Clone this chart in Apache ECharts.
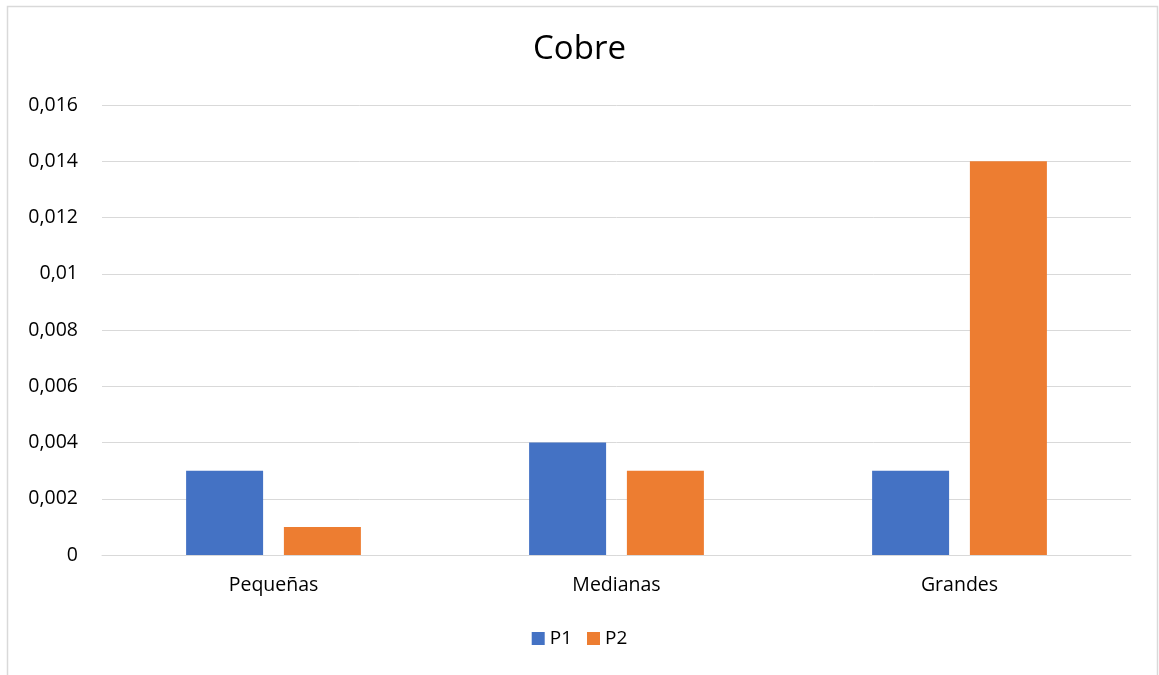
<!DOCTYPE html>
<html>
<head>
<meta charset="utf-8">
<script src="https://cdn.jsdelivr.net/npm/echarts@6/dist/echarts.min.js"></script>
<style>html,body{margin:0;padding:0;background:#fff;}#c{width:1159px;height:675px;}</style>
</head>
<body>
<div id="c"></div>
<script>
const categories = ["Pequeñas", "Medianas", "Grandes"];
const seriesNames = ["P1", "P2"];
const p1Values = [0.003, 0.004, 0.003];
const p2Values = [0.001, 0.003, 0.014];
const colors = ["#4472C4", "#ED7D31"];
const FONT = "Open Sans";

const chart = echarts.init(document.getElementById('c'));
chart.setOption({
  animation: false,
  backgroundColor: '#fff',
  title: {
    text: 'Cobre', left: 'center', top: 28,
    textStyle: { fontFamily: FONT, fontSize: 33, fontWeight: 'normal', color: '#000' }
  },
  legend: {
    bottom: 22, left: 'center', itemWidth: 13, itemHeight: 13, itemGap: 15, itemTextGap: 5,
    icon: 'rect',
    textStyle: { fontFamily: FONT, fontSize: 19, color: '#000' },
    data: seriesNames
  },
  grid: { left: 102, right: 28, top: 105, bottom: 120 },
  xAxis: {
    type: 'category', data: categories,
    axisLine: { lineStyle: { color: '#d9d9d9', width: 1 } },
    axisTick: { show: false },
    axisLabel: { fontFamily: FONT, fontSize: 19.5, color: '#000', margin: 20 }
  },
  yAxis: {
    type: 'value', min: 0, max: 0.016, interval: 0.002,
    axisLine: { show: false }, axisTick: { show: false },
    splitLine: { lineStyle: { color: '#d9d9d9', width: 1 } },
    axisLabel: {
      fontFamily: FONT, fontSize: 19.5, color: '#000', margin: 24,
      formatter: v => String(parseFloat(v.toFixed(6))).replace('.', ',')
    }
  },
  series: [
    { name: seriesNames[0], type: 'bar', data: p1Values, barWidth: 77, barGap: '27%', itemStyle: { color: colors[0] } },
    { name: seriesNames[1], type: 'bar', data: p2Values, barWidth: 77, itemStyle: { color: colors[1] } }
  ],
  graphic: [{
    type: 'rect', shape: { x: 7.5, y: 6.5, width: 1150, height: 700 },
    style: { fill: null, stroke: '#d9d9d9', lineWidth: 1.5 }, silent: true
  }]
});
</script>
</body>
</html>
